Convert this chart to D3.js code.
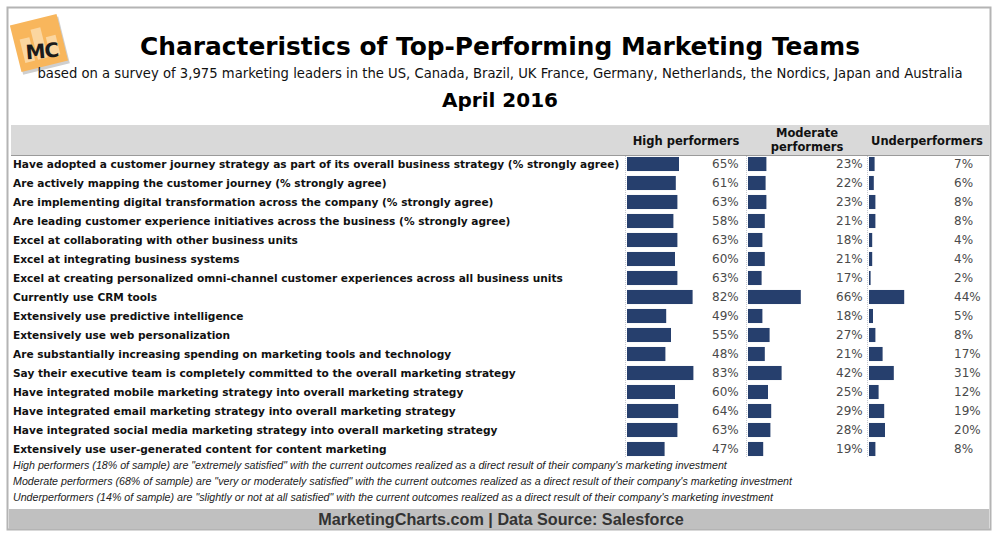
<!DOCTYPE html>
<html>
<head>
<meta charset="utf-8">
<script src="https://cdn.jsdelivr.net/npm/d3@7.9.0/dist/d3.min.js"></script>
<style>
  body { margin: 0; background: #fff; }
  svg { display: block; }
  text { font-family: "DejaVu Sans", Verdana, sans-serif; }
  .narrow { font-family: "Liberation Sans Narrow", "Liberation Sans", sans-serif; }
</style>
</head>
<body>
<svg id="chart" width="1000" height="535"></svg>
<script>
// ── Data ───────────────────────────────────────────────────────────────────
const categories = [
  'Have adopted a customer journey strategy as part of its overall business strategy (% strongly agree)',
  'Are actively mapping the customer journey (% strongly agree)',
  'Are implementing digital transformation across the company (% strongly agree)',
  'Are leading customer experience initiatives across the business (% strongly agree)',
  'Excel at collaborating with other business units',
  'Excel at integrating business systems',
  'Excel at creating personalized omni-channel customer experiences across all business units',
  'Currently use CRM tools',
  'Extensively use predictive intelligence',
  'Extensively use web personalization',
  'Are substantially increasing spending on marketing tools and technology',
  'Say their executive team is completely committed to the overall marketing strategy',
  'Have integrated mobile marketing strategy into overall marketing strategy',
  'Have integrated email marketing strategy into overall marketing strategy',
  'Have integrated social media marketing strategy into overall marketing strategy',
  'Extensively use user-generated content for content marketing'
];
const highPerformers = [65, 61, 63, 58, 63, 60, 63, 82, 49, 55, 48, 83, 60, 64, 63, 47];
const moderatePerformers = [23, 22, 23, 21, 18, 21, 17, 66, 18, 27, 21, 42, 25, 29, 28, 19];
const underPerformers = [7, 6, 8, 8, 4, 4, 2, 44, 5, 8, 17, 31, 12, 19, 20, 8];
const seriesNames = [['High performers'], ['Moderate', 'performers'], ['Underperformers']];

const notes = [
  'High performers (18% of sample) are "extremely satisfied" with the current outcomes realized as a direct result of their company\'s marketing investment',
  'Moderate performers (68% of sample) are "very or moderately satisfied" with the current outcomes realized as a direct result of their company\'s marketing investment',
  'Underperformers (14% of sample) are "slightly or not at all satisfied" with the current outcomes realized as a direct result of their company\'s marketing investment'
];

const svg = d3.select('#chart');

// scale text so it spans a given pixel width
function fitWidth(sel, target) {
  const node = sel.node();
  const size = parseFloat(sel.attr('font-size'));
  const w = node.getComputedTextLength();
  sel.attr('font-size', (size * target / w).toFixed(2));
}

// ── Frame ──────────────────────────────────────────────────────────────────
svg.append('rect')
  .attr('x', 7.5).attr('y', 7.5).attr('width', 983).attr('height', 522)
  .attr('fill', '#fff').attr('stroke', '#b4b4b4').attr('stroke-width', 2);

svg.append('rect')
  .attr('x', 9).attr('y', 509).attr('width', 980).attr('height', 20)
  .attr('fill', '#c0c0c0');

// ── Logo ───────────────────────────────────────────────────────────────────
const logo = svg.append('g').attr('transform', 'translate(39,43) rotate(-14)');
logo.append('rect').attr('x', -23).attr('y', -21).attr('width', 48).attr('height', 48)
  .attr('fill', '#cfcfcf');
logo.append('rect').attr('x', -24).attr('y', -24).attr('width', 48).attr('height', 48)
  .attr('fill', '#f8b65c');
[[-18, -8, 10, 24], [-5, -15, 10, 31], [8, -4, 10, 20]].forEach(([x, y, w, h]) => {
  logo.append('rect').attr('x', x).attr('y', y).attr('width', w).attr('height', h)
    .attr('fill', '#fbd6a0');
});
svg.append('text').attr('x', 42).attr('y', 58).attr('text-anchor', 'middle')
  .attr('font-size', 20).attr('font-weight', 'bold').attr('fill', '#1b1b1b')
  .attr('transform', 'rotate(-5,42,52)')
  .style('letter-spacing', '-1px')
  .text('MC');

// ── Titles ─────────────────────────────────────────────────────────────────
const title = svg.append('text').attr('x', 500).attr('y', 55).attr('text-anchor', 'middle')
  .attr('font-size', 24).attr('font-weight', 'bold').attr('fill', '#000')
  .text('Characteristics of Top-Performing Marketing Teams');
fitWidth(title, 720);

const sub = svg.append('text').attr('x', 500).attr('y', 78).attr('text-anchor', 'middle')
  .attr('font-size', 13).attr('fill', '#111')
  .text('based on a survey of 3,975 marketing leaders in the US, Canada, Brazil, UK France, Germany, Netherlands, the Nordics, Japan and Australia');
fitWidth(sub, 925);

svg.append('text').attr('x', 500).attr('y', 107).attr('text-anchor', 'middle')
  .attr('font-size', 20).attr('font-weight', 'bold').attr('fill', '#000')
  .text('April 2016');

// ── Header band ────────────────────────────────────────────────────────────
svg.append('rect').attr('x', 11).attr('y', 125).attr('width', 978).attr('height', 30)
  .attr('fill', '#d9d9d9');
svg.append('line').attr('x1', 11).attr('x2', 989).attr('y1', 155.5).attr('y2', 155.5)
  .attr('stroke', '#9a9a9a').attr('stroke-width', 1);

// ── Scales ─────────────────────────────────────────────────────────────────
const y = d3.scaleBand().domain(d3.range(categories.length))
  .range([154.5, 154.5 + 19 * categories.length]).paddingInner(0.26).paddingOuter(0.13);
const x = d3.scaleLinear().domain([0, 100]).range([0, 80]);

const columns = [
  { values: highPerformers, x0: 627, labelX: 712, headX: 686 },
  { values: moderatePerformers, x0: 748, labelX: 836, headX: 807 },
  { values: underPerformers, x0: 869, labelX: 954, headX: 927 }
];

// column headers
columns.forEach((c, i) => {
  const lines = seriesNames[i];
  const t = svg.append('text').attr('text-anchor', 'middle')
    .attr('font-size', 11.5).attr('font-weight', 'bold').attr('fill', '#111');
  lines.forEach((ln, j) => {
    t.append('tspan').attr('x', c.headX)
      .attr('y', lines.length === 1 ? 145 : 137 + j * 14)
      .text(ln);
  });
});

// dotted separators
columns.forEach(c => {
  svg.append('line').attr('x1', c.x0 - 1.5).attr('x2', c.x0 - 1.5)
    .attr('y1', 156).attr('y2', 457)
    .attr('stroke', '#c4c8d0').attr('stroke-width', 1).attr('stroke-dasharray', '1,1');
});

// ── Rows ───────────────────────────────────────────────────────────────────
const rowLabels = svg.append('g').selectAll('text').data(categories).join('text')
  .attr('x', 13)
  .attr('y', (d, i) => y(i) + y.bandwidth() / 2)
  .attr('dy', '0.36em')
  .attr('font-size', 10).attr('font-weight', 'bold').attr('fill', '#111')
  .text(d => d);
// size labels so the first one spans the same width as the reference
const first = rowLabels.filter((d, i) => i === 0);
const fs = 10 * 607 / first.node().getComputedTextLength();
rowLabels.attr('font-size', fs.toFixed(2));

columns.forEach(c => {
  const g = svg.append('g').attr('transform', `translate(${c.x0},0)`);
  g.selectAll('rect').data(c.values).join('rect')
    .attr('x', 0)
    .attr('y', (d, i) => y(i))
    .attr('width', d => x(d))
    .attr('height', y.bandwidth())
    .attr('fill', '#263f6d');
  svg.append('g').selectAll('text').data(c.values).join('text')
    .attr('x', c.labelX)
    .attr('y', (d, i) => y(i) + y.bandwidth() / 2)
    .attr('dy', '0.36em')
    .attr('font-size', 12).attr('fill', '#4a4a4a')
    .text(d => `${d}%`);
});

// ── Notes ──────────────────────────────────────────────────────────────────
const noteSel = svg.append('g').selectAll('text').data(notes).join('text')
  .attr('class', 'narrow')
  .attr('x', 13)
  .attr('y', (d, i) => 469 + i * 16)
  .attr('font-size', 10.5).attr('font-style', 'italic').attr('fill', '#222')
  .text(d => d);
const noteFs = 10.5 * 714 / noteSel.filter((d, i) => i === 0).node().getComputedTextLength();
noteSel.attr('font-size', noteFs.toFixed(2));

// ── Footer ─────────────────────────────────────────────────────────────────
const foot = svg.append('text').attr('class', 'narrow')
  .attr('x', 501).attr('y', 524.5).attr('text-anchor', 'middle')
  .attr('font-size', 15).attr('font-weight', 'bold').attr('fill', '#333')
  .text('MarketingCharts.com | Data Source: Salesforce');
fitWidth(foot, 366);
</script>
</body>
</html>
